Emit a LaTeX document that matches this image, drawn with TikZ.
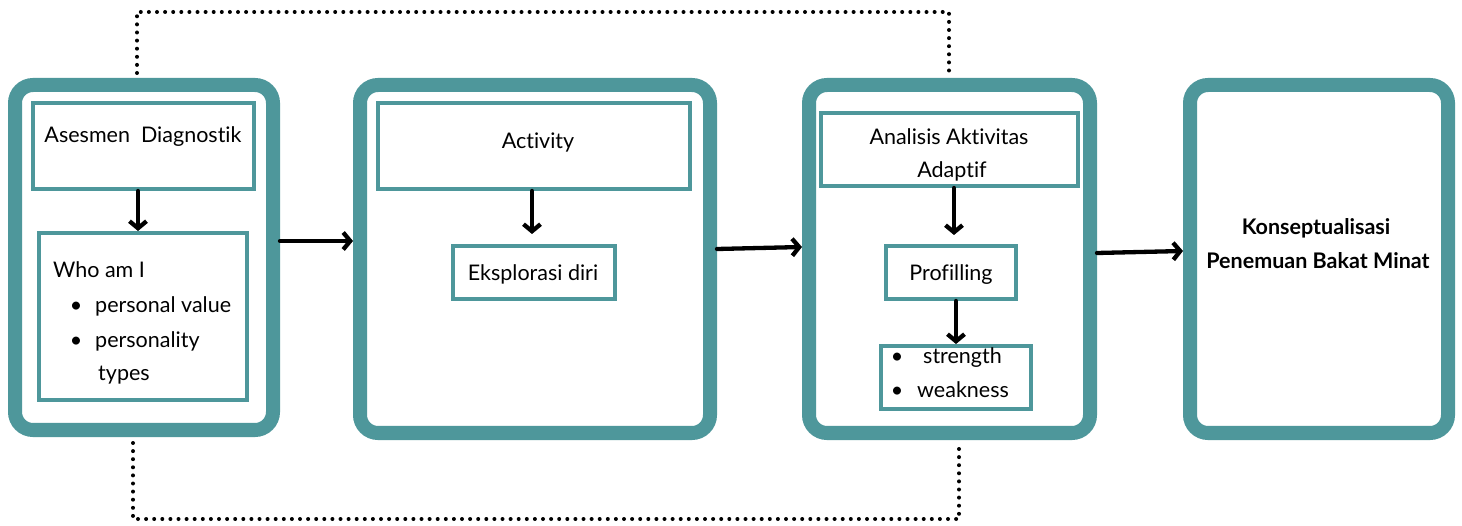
\documentclass[tikz,border=0pt]{standalone}
\usepackage{fontspec}
\setmainfont{Lato}[Ligatures=NoCommon]
\usetikzlibrary{arrows.meta}
\definecolor{tealbox}{RGB}{78,151,155}
\begin{document}
\begin{tikzpicture}[x=1pt,y=-1pt,
  outerbox/.style={draw=tealbox, line width=14pt, rounded corners=18pt, fill=white, inner sep=0pt},
  innerbox/.style={draw=tealbox, line width=4pt, inner sep=0pt},
  arr/.style={-{Straight Barb[length=7pt,width=17pt]}, line width=4.3pt, line cap=round, line join=round},
  dotline/.style={line width=4pt, line cap=round, dash pattern=on 0pt off 8.1pt},
  txt/.style={font=\fontsize{21.5}{25}\selectfont, inner sep=0pt, anchor=base},
  txtl/.style={txt, anchor=base west},
  btxt/.style={font=\fontsize{21.5}{25}\selectfont\bfseries, inner sep=0pt, anchor=base}]
\useasboundingbox (0,0) rectangle (1462,526);

% outer boxes
\node[outerbox, minimum width=258pt, minimum height=345pt] (o1) at (144,257.5) {};
\node[outerbox, minimum width=350pt, minimum height=348pt] (o2) at (535,259) {};
\node[outerbox, minimum width=281pt, minimum height=348pt] (o3) at (949.5,259) {};
\node[outerbox, minimum width=258pt, minimum height=348pt] (o4) at (1319,259) {};

% inner boxes
\node[innerbox, minimum width=221pt, minimum height=86pt] (b1t) at (143.5,146) {};
\node[innerbox, minimum width=208pt, minimum height=167pt] (b1b) at (143,316.5) {};
\node[innerbox, minimum width=312pt, minimum height=86pt] (b2t) at (534,146) {};
\node[innerbox, minimum width=162pt, minimum height=53pt] (b2b) at (534,272.5) {};
\node[innerbox, minimum width=257pt, minimum height=73pt] (b3t) at (949.5,149.5) {};
\node[innerbox, minimum width=130pt, minimum height=53pt] (b3m) at (951,272.5) {};
\node[innerbox, minimum width=150pt, minimum height=63pt] (b3b) at (956,377.5) {};

% texts
\node[txt] (t1) at (143,143) {Asesmen\ \ Diagnostik};
\node[txtl] (t2) at (53,278) {Who am I};
\node[txt] (t2a) at (76,313) {\textbullet};
\node[txtl] (t2b) at (95,313) {personal value};
\node[txt] (t2c) at (76,348) {\textbullet};
\node[txtl] (t2d) at (95,348) {personality};
\node[txtl] (t2e) at (98,381) {types};
\node[txt] (t3) at (538,149) {Activity};
\node[txt] (t4) at (533,281) {Eksplorasi diri};
\node[txt] (t5) at (949,145) {Analisis Aktivitas};
\node[txt] (t6) at (952,178) {Adaptif};
\node[txt] (t7) at (951,281) {Profilling};
\node[txt] (t8a) at (897,364) {\textbullet};
\node[txtl] (t8b) at (923,364) {strength};
\node[txt] (t9a) at (897,398) {\textbullet};
\node[txtl] (t9b) at (917,398) {weakness};
\node[btxt] (t10) at (1316,235) {Konseptualisasi};
\node[btxt] (t11) at (1318,269) {Penemuan Bakat Minat};

% vertical arrows
\draw[arr] ([xshift=-5.5pt]b1t.south) -- ([xshift=-5.5pt]b1t.south |- b1b.north);
\draw[arr] ([xshift=-2pt]b2t.south) -- ([xshift=-2pt,yshift=10pt]b2t.south |- b2b.north);
\draw[arr] ([xshift=4.5pt]b3t.south) -- ([xshift=4.5pt,yshift=9pt]b3t.south |- b3m.north);
\draw[arr] ([xshift=5pt]b3m.south) -- ([xshift=5pt]b3m.south |- b3b.north);

% horizontal arrows
\draw[arr] (o1.east |- 0,241) -- (o2.west |- 0,241);
\draw[arr] (o2.east |- 0,249) -- (o3.west |- 0,247);
\draw[arr] (o3.east |- 0,253) -- (o4.west |- 0,251);

% dotted loops
\coordinate (d1) at (137,12);
\coordinate (d2) at (949,12);
\coordinate (d3) at (133,519);
\coordinate (d4) at (959,519);
\draw[dotline] ([yshift=5pt]o1.north -| d1) -- (d1) -- (d2) -- ([yshift=6pt]o3.north -| d2);
\draw[dotline] ([yshift=-6pt]o1.south -| d3) -- (d3) -- (d4) -- ([yshift=-3pt]o3.south -| d4);
\end{tikzpicture}
\end{document}
